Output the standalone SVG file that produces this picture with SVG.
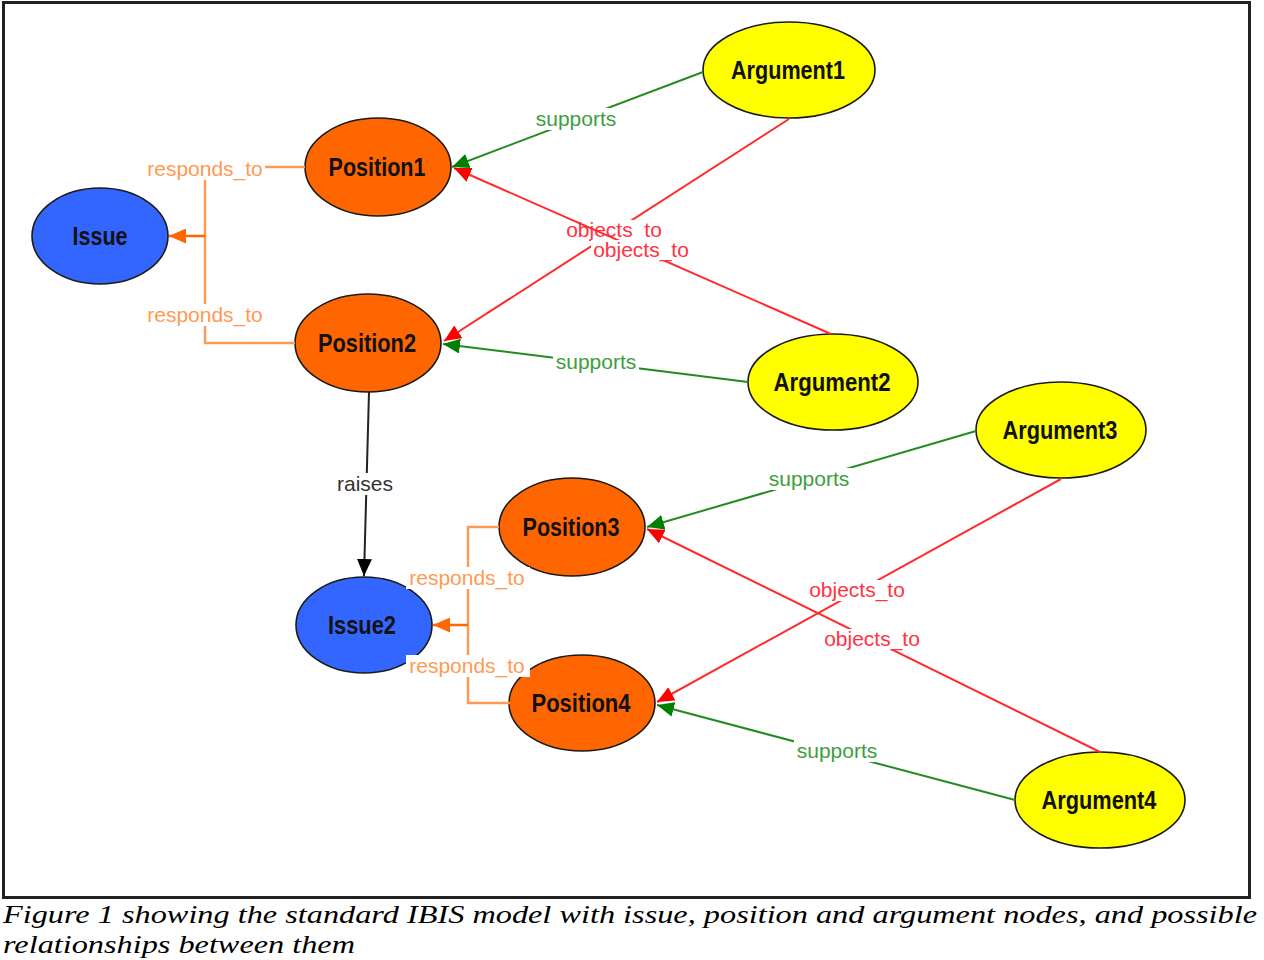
<svg xmlns="http://www.w3.org/2000/svg" width="1264" height="960" viewBox="0 0 1264 960">
<style>
.node{stroke:#1a1a1a;stroke-width:1.6}
.issue{fill:#3366FF}
.pos{fill:#FF6600}
.arg{fill:#FFFF00}
.nt{font-family:"Liberation Sans",Arial,sans-serif;font-weight:bold;font-size:25px;fill:#111;text-anchor:middle}
.el{font-family:"Liberation Sans",Arial,sans-serif;font-size:21px;text-anchor:middle}
.bg{fill:#fff}
.sup{stroke:#228B22;stroke-width:2;fill:none}
.obj{stroke:#FF2A2A;stroke-width:2;fill:none}
.rsp{stroke:#FF9A55;stroke-width:2.5;fill:none}
.rai{stroke:#222;stroke-width:2;fill:none}
.tsup{fill:#3E9E3E}
.tobj{fill:#FF3344}
.trsp{fill:#FF9A55}
.trai{fill:#333}
.cap{font-family:"Liberation Serif","Times New Roman",serif;font-style:italic;font-size:26px;fill:#000}
</style>
<defs>
<marker id="aG" markerUnits="userSpaceOnUse" markerWidth="17" markerHeight="15" refX="17" refY="7.5" orient="auto"><path d="M0,0 L17,7.5 L0,15 z" fill="#008000"/></marker>
<marker id="aR" markerUnits="userSpaceOnUse" markerWidth="17" markerHeight="15" refX="17" refY="7.5" orient="auto"><path d="M0,0 L17,7.5 L0,15 z" fill="#FF0000"/></marker>
<marker id="aO" markerUnits="userSpaceOnUse" markerWidth="17" markerHeight="15" refX="17" refY="7.5" orient="auto"><path d="M0,0 L17,7.5 L0,15 z" fill="#FF6600"/></marker>
<marker id="aK" markerUnits="userSpaceOnUse" markerWidth="17" markerHeight="15" refX="17" refY="7.5" orient="auto"><path d="M0,0 L17,7.5 L0,15 z" fill="#000"/></marker>
</defs>
<rect x="0" y="0" width="1264" height="960" fill="#fff"/>
<rect x="3.5" y="2.5" width="1246" height="895" fill="#fff" stroke="#222" stroke-width="3"/>

<g id="nodes">
<g id="Issue"><ellipse class="node issue" cx="100" cy="236" rx="68" ry="48"/><text class="nt" x="100" y="245" textLength="55" lengthAdjust="spacingAndGlyphs">Issue</text></g>
<g id="Position1"><ellipse class="node pos" cx="378" cy="167" rx="73" ry="49"/><text class="nt" x="377" y="176" textLength="97" lengthAdjust="spacingAndGlyphs">Position1</text></g>
<g id="Position2"><ellipse class="node pos" cx="368" cy="343" rx="73" ry="49"/><text class="nt" x="367" y="352" textLength="98" lengthAdjust="spacingAndGlyphs">Position2</text></g>
<g id="Argument1"><ellipse class="node arg" cx="789" cy="70" rx="86" ry="48"/><text class="nt" x="788" y="79" textLength="114" lengthAdjust="spacingAndGlyphs">Argument1</text></g>
<g id="Argument2"><ellipse class="node arg" cx="833" cy="382" rx="85" ry="48"/><text class="nt" x="832" y="391" textLength="117" lengthAdjust="spacingAndGlyphs">Argument2</text></g>
<g id="Argument3"><ellipse class="node arg" cx="1061" cy="430" rx="85" ry="48"/><text class="nt" x="1060" y="439" textLength="115" lengthAdjust="spacingAndGlyphs">Argument3</text></g>
<g id="Argument4"><ellipse class="node arg" cx="1100" cy="800" rx="85" ry="48"/><text class="nt" x="1099" y="809" textLength="115" lengthAdjust="spacingAndGlyphs">Argument4</text></g>
<g id="Position3"><ellipse class="node pos" cx="572" cy="527" rx="73" ry="49"/><text class="nt" x="571" y="536" textLength="97" lengthAdjust="spacingAndGlyphs">Position3</text></g>
<g id="Position4"><ellipse class="node pos" cx="582" cy="703" rx="73" ry="48"/><text class="nt" x="581" y="712" textLength="99" lengthAdjust="spacingAndGlyphs">Position4</text></g>
<g id="Issue2"><ellipse class="node issue" cx="364" cy="625" rx="68" ry="48"/><text class="nt" x="362" y="634" textLength="68" lengthAdjust="spacingAndGlyphs">Issue2</text></g>
</g>

<g id="connectors">
<g id="e-p1-issue"><path class="rsp" d="M305,167 H205 V236"/><rect class="bg" x="145" y="158" width="120" height="22"/><text class="el trsp" x="205" y="176">responds_to</text></g>
<g id="e-p2-issue"><path class="rsp" d="M295,343 H205 V236"/><rect class="bg" x="145" y="304" width="120" height="22"/><text class="el trsp" x="205" y="322">responds_to</text></g>
<line x1="205" y1="236" x2="169" y2="236" stroke="#FF6600" stroke-width="2.5" marker-end="url(#aO)"/>
<g id="e-p2-issue2"><line class="rai" x1="369" y1="392" x2="364" y2="576" marker-end="url(#aK)"/><rect class="bg" x="334" y="473" width="62" height="22"/><text class="el trai" x="365" y="491">raises</text></g>
<g id="e-p3-issue2"><path class="rsp" d="M499,527 H468 V625" stroke="#FF7A2A"/><rect class="bg" x="406" y="567" width="124" height="22"/><text class="el trsp" x="467" y="585">responds_to</text></g>
<g id="e-p4-issue2"><path class="rsp" d="M510,703 H468 V625"/><rect class="bg" x="406" y="655" width="124" height="22"/><text class="el trsp" x="467" y="673">responds_to</text></g>
<line x1="468" y1="625" x2="433" y2="625" stroke="#FF6600" stroke-width="2.5" marker-end="url(#aO)"/>
<g id="e-a1-p1"><line class="sup" x1="703" y1="72" x2="452" y2="167" marker-end="url(#aG)"/><rect class="bg" x="533" y="108" width="86" height="22"/><text class="el tsup" x="576" y="126">supports</text></g>
<g id="e-a1-p2"><line class="obj" x1="789" y1="119" x2="444" y2="341" marker-end="url(#aR)"/><rect class="bg" x="564" y="220" width="100" height="20"/><text class="el tobj" x="614" y="237">objects_to</text></g>
<g id="e-a2-p1"><line class="obj" x1="831" y1="334" x2="454" y2="168" marker-end="url(#aR)"/><rect class="bg" x="591" y="240" width="100" height="21"/><text class="el tobj" x="641" y="257">objects_to</text></g>
<g id="e-a2-p2"><line class="sup" x1="748" y1="382" x2="443" y2="344" marker-end="url(#aG)"/><rect class="bg" x="553" y="351" width="86" height="21"/><text class="el tsup" x="596" y="369">supports</text></g>
<g id="e-a3-p3"><line class="sup" x1="976" y1="431" x2="647" y2="527" marker-end="url(#aG)"/><rect class="bg" x="766" y="468" width="86" height="22"/><text class="el tsup" x="809" y="486">supports</text></g>
<g id="e-a3-p4"><line class="obj" x1="1061" y1="479" x2="657" y2="702" marker-end="url(#aR)"/><rect class="bg" x="807" y="580" width="100" height="21"/><text class="el tobj" x="857" y="597">objects_to</text></g>
<g id="e-a4-p3"><line class="obj" x1="1100" y1="752" x2="647" y2="529" marker-end="url(#aR)"/><rect class="bg" x="822" y="629" width="100" height="21"/><text class="el tobj" x="872" y="646">objects_to</text></g>
<g id="e-a4-p4"><line class="sup" x1="1015" y1="800" x2="657" y2="705" marker-end="url(#aG)"/><rect class="bg" x="794" y="740" width="86" height="22"/><text class="el tsup" x="837" y="758">supports</text></g>
</g>

<text class="cap" x="3" y="923" textLength="1254" lengthAdjust="spacingAndGlyphs">Figure 1 showing the standard IBIS model with issue, position and argument nodes, and possible</text>
<text class="cap" x="3" y="953" textLength="352" lengthAdjust="spacingAndGlyphs">relationships between them</text>
</svg>
